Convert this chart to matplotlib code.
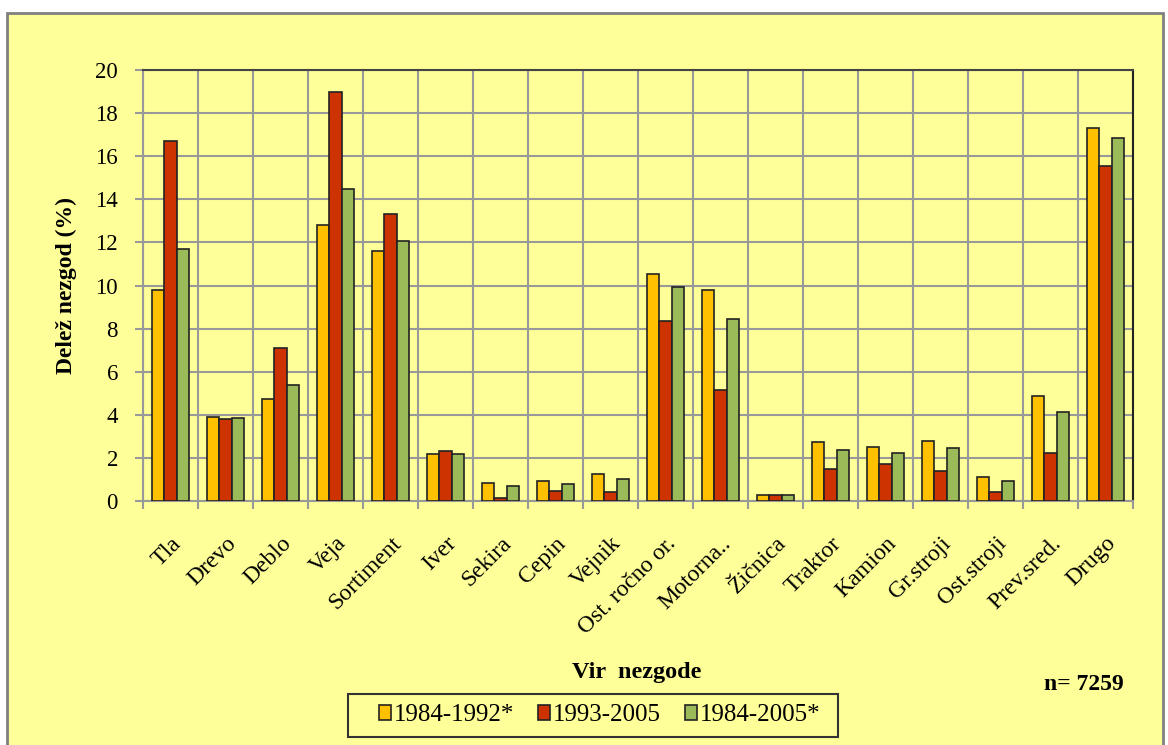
import numpy as np
import matplotlib.pyplot as plt
from matplotlib.patches import Rectangle
from matplotlib.transforms import ScaledTranslation

plt.rcParams['font.family'] = ['Liberation Serif', 'DejaVu Serif']

categories = ['Tla', 'Drevo', 'Deblo', 'Veja', 'Sortiment', 'Iver', 'Sekira', 'Cepin',
              'Vejnik', 'Ost. ročno or.', 'Motorna..', 'Žičnica', 'Traktor', 'Kamion',
              'Gr.stroji', 'Ost.stroji', 'Prev.sred.', 'Drugo']
s_1984_1992 = [9.8, 3.9, 4.75, 12.8, 11.6, 2.2, 0.85, 0.95, 1.25, 10.55, 9.8, 0.3, 2.75, 2.5, 2.8, 1.1, 4.85, 17.3]
s_1993_2005 = [16.7, 3.8, 7.1, 19.0, 13.3, 2.3, 0.15, 0.45, 0.4, 8.35, 5.15, 0.3, 1.5, 1.7, 1.4, 0.4, 2.25, 15.55]
s_1984_2005 = [11.7, 3.85, 5.4, 14.5, 12.05, 2.2, 0.7, 0.8, 1.0, 9.95, 8.45, 0.3, 2.35, 2.25, 2.45, 0.95, 4.15, 16.85]
series_names = ['1984-1992*', '1993-2005', '1984-2005*']
colors = ['#FFC000', '#CC3300', '#9BBB59']

bg = '#FFFF99'
fig = plt.figure(figsize=(11.68, 7.45), dpi=100)
fig.patch.set_facecolor('white')
fig.add_artist(Rectangle((0.006, -0.02), 0.99, 1.002, transform=fig.transFigure,
                         facecolor=bg, edgecolor='#808080', linewidth=2, zorder=-10))

ax = fig.add_axes([0.1224, 0.3275, 0.8476, 0.5785])
ax.set_facecolor(bg)

x = np.arange(len(categories))
w = 0.22
for i, (vals, name, c) in enumerate(zip([s_1984_1992, s_1993_2005, s_1984_2005], series_names, colors)):
    ax.bar(x + (i - 1) * w, vals, width=w, color=c, edgecolor='#222222', linewidth=1.2,
           label=name, zorder=3)

ax.set_xlim(-0.5, len(categories) - 0.5)
ax.set_ylim(0, 20)
ax.set_yticks(np.arange(0, 21, 2))
ax.set_xticks(np.arange(-0.5, len(categories), 1), minor=False)
ax.set_xticklabels([])
ax.set_xticks(x, minor=True)
ax.set_xticklabels(categories, minor=True, rotation=45, ha='right', va='top',
                   rotation_mode='anchor', fontsize=17)
shift = ScaledTranslation(-0.05, 0, fig.dpi_scale_trans)
for lbl in ax.get_xticklabels(minor=True):
    lbl.set_transform(lbl.get_transform() + shift)
ax.tick_params(axis='x', which='minor', length=0, pad=23)
ax.tick_params(axis='x', which='major', length=6, color='#999999', width=1.5, direction='out')
ax.tick_params(axis='y', length=6, color='#999999', width=1.5, labelsize=16.5, pad=12)
ax.grid(True, which='major', color='#999999', linewidth=1.5, zorder=0)
ax.set_axisbelow(True)
for side in ['left', 'bottom']:
    ax.spines[side].set_color('#999999')
    ax.spines[side].set_linewidth(1.5)
ax.spines['top'].set_color('#444444')
ax.spines['top'].set_linewidth(1.5)
ax.spines['right'].set_color('#222222')
ax.spines['right'].set_linewidth(1.5)

ax.set_ylabel('Delež nezgod (%)', fontsize=17, fontweight='bold', labelpad=13)

fig.text(0.5455, 0.097, 'Vir  nezgode', ha='center', va='center', fontsize=17.5, fontweight='bold')
fig.text(0.928, 0.081, 'n= 7259', ha='center', va='center', fontsize=17, fontweight='bold')

# legend box drawn separately (Excel-style asymmetric padding)
fig.add_artist(Rectangle((0.298, 0.0107), 0.4195, 0.0578, transform=fig.transFigure,
                         facecolor=bg, edgecolor='#333333', linewidth=1.5, zorder=1))
leg = fig.legend(loc='center', bbox_to_anchor=(0.5133, 0.0396), ncol=3, fontsize=18,
                 handlelength=0.5, handleheight=0.5, handletextpad=0.1, columnspacing=0.96,
                 frameon=False, borderpad=0.0)
leg.set_zorder(2)

fig.savefig('out.png', dpi=100, facecolor=fig.get_facecolor())
